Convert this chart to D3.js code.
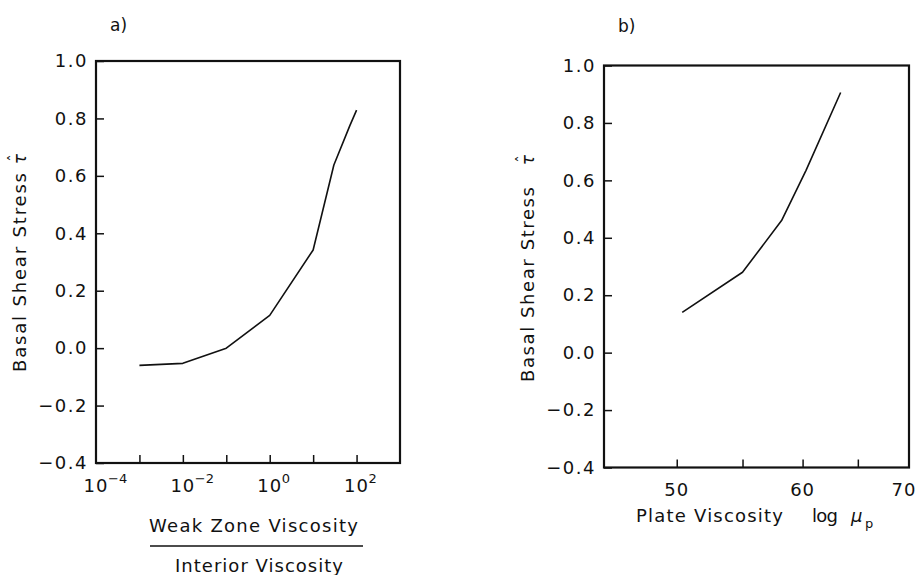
<!DOCTYPE html>
<html>
<head>
<meta charset="utf-8">
<script src="https://cdn.jsdelivr.net/npm/d3@7"></script>
<style>
  html, body { margin: 0; padding: 0; background: #fff; }
  svg { display: block; }
  text { font-family: "DejaVu Sans", "Liberation Sans", sans-serif; fill: #111; }
</style>
</head>
<body>
<svg id="chart" width="918" height="575"></svg>
<script>
// ---- data ----
const aX = [0.001, 0.01, 0.1, 1, 10, 30, 70, 100];
const aY = [-0.060, -0.053, 0.0, 0.114, 0.342, 0.638, 0.775, 0.829];
const bX = [50.4, 55, 58.2, 60.3, 63.4];
const bY = [0.14, 0.28, 0.46, 0.635, 0.906];
const yTicks = [-0.4, -0.2, 0.0, 0.2, 0.4, 0.6, 0.8, 1.0];
const aTickValues = [1e-3, 1e-2, 1e-1, 1e0, 1e1, 1e2];
const aLabelExps = [-4, -2, 0, 2];
const bTickValues = [50, 55, 60, 65];
const bLabels = [50, 60, 70];

const svg = d3.select("#chart");
const fmt = d3.format(".1f");

function yAxisPanel(g, y, x0) {
  const ax = d3.axisLeft(y).tickValues(yTicks).tickFormat(fmt)
    .tickSizeInner(-8).tickSizeOuter(0).tickPadding(8);
  const ga = g.append("g").attr("transform", `translate(${x0},0)`).call(ax);
  ga.select(".domain").remove();
  ga.selectAll(".tick line").attr("stroke", "#111").attr("stroke-width", 1.5);
  ga.selectAll(".tick text").attr("font-size", 18).attr("letter-spacing", 1.5)
    .attr("font-family", "DejaVu Sans").attr("fill", "#111");
}

function frame(g, x0, y0, x1, y1) {
  g.append("rect").attr("x", x0).attr("y", y0).attr("width", x1 - x0).attr("height", y1 - y0)
    .attr("fill", "none").attr("stroke", "#111").attr("stroke-width", 2.2);
}

function yTitle(g, x, yBottom, len, tauY) {
  const t = g.append("g").attr("transform", `translate(${x},${yBottom}) rotate(-90)`);
  t.append("text").attr("x", 0).attr("y", 0).attr("font-size", 18)
    .attr("textLength", len).attr("lengthAdjust", "spacing")
    .text("Basal Shear Stress");
  t.append("text").attr("x", yBottom - tauY).attr("y", 0).attr("font-size", 17)
    .attr("text-anchor", "middle").attr("font-style", "italic")
    .text("\u03C4");
  t.append("text").attr("x", yBottom - tauY + 1).attr("y", -6).attr("font-size", 15)
    .attr("text-anchor", "middle")
    .text("\u02C6");
}

// ---------- Panel a ----------
{
  const L = 96, T = 61, R = 400, B = 463;
  const x = d3.scaleLog().domain([1e-4, 1e3]).range([L, R]);
  const y = d3.scaleLinear().domain([-0.4, 1.0]).range([B, T]);
  const g = svg.append("g");

  yAxisPanel(g, y, L);
  const xa = d3.axisBottom(x).tickValues(aTickValues).tickFormat("")
    .tickSizeInner(-8).tickSizeOuter(0);
  const gx = g.append("g").attr("transform", `translate(0,${B})`).call(xa);
  gx.select(".domain").remove();
  gx.selectAll(".tick line").attr("stroke", "#111").attr("stroke-width", 1.5);

  aLabelExps.forEach(e => {
    const px = x(Math.pow(10, e));
    g.append("text").attr("x", px).attr("y", 492).attr("text-anchor", "middle")
      .attr("font-size", 18).attr("letter-spacing", 1).text("10");
    g.append("text").attr("x", px + 12).attr("y", 483).attr("text-anchor", "start")
      .attr("font-size", 13).text(e < 0 ? "\u2212" + Math.abs(e) : String(e));
  });

  frame(g, L, T, R, B);

  g.append("path").datum(aX.map((d, i) => [d, aY[i]]))
    .attr("fill", "none").attr("stroke", "#111").attr("stroke-width", 1.6)
    .attr("stroke-linejoin", "round")
    .attr("d", d3.line().x(d => x(d[0])).y(d => y(d[1])));

  g.append("text").attr("x", 110).attr("y", 31).attr("font-size", 17).text("a)");

  yTitle(g, 26, 372, 199, 159);

  g.append("text").attr("x", 149).attr("y", 532).attr("font-size", 18)
    .attr("textLength", 209).attr("lengthAdjust", "spacing").text("Weak Zone Viscosity");
  g.append("line").attr("x1", 150).attr("x2", 363).attr("y1", 546).attr("y2", 546)
    .attr("stroke", "#111").attr("stroke-width", 1.5);
  g.append("text").attr("x", 175).attr("y", 572).attr("font-size", 18)
    .attr("textLength", 168).attr("lengthAdjust", "spacing").text("Interior Viscosity");
}

// ---------- Panel b ----------
{
  const L = 604, T = 65.5, R = 909, B = 467.5;
  const x = d3.scaleLog().domain([45, 70]).range([L, R]);
  const y = d3.scaleLinear().domain([-0.4, 1.0]).range([B, T]);
  const g = svg.append("g");

  yAxisPanel(g, y, L);
  const xa = d3.axisBottom(x).tickValues(bTickValues).tickFormat("")
    .tickSizeInner(-8).tickSizeOuter(0);
  const gx = g.append("g").attr("transform", `translate(0,${B})`).call(xa);
  gx.select(".domain").remove();
  gx.selectAll(".tick line").attr("stroke", "#111").attr("stroke-width", 1.5);

  bLabels.forEach(v => {
    const px = Math.min(x(v), 904);
    g.append("text").attr("x", px).attr("y", 496).attr("text-anchor", "middle")
      .attr("font-size", 18).attr("letter-spacing", 1).text(String(v));
  });

  frame(g, L, T, R, B);

  g.append("path").datum(bX.map((d, i) => [d, bY[i]]))
    .attr("fill", "none").attr("stroke", "#111").attr("stroke-width", 1.6)
    .attr("stroke-linejoin", "round")
    .attr("d", d3.line().x(d => x(d[0])).y(d => y(d[1])));

  g.append("text").attr("x", 618).attr("y", 32).attr("font-size", 17).text("b)");

  yTitle(g, 534, 382, 195, 160);

  g.append("text").attr("x", 636).attr("y", 522).attr("font-size", 18)
    .attr("textLength", 147).attr("lengthAdjust", "spacing").text("Plate Viscosity");
  g.append("text").attr("x", 812).attr("y", 522).attr("font-size", 18)
    .attr("textLength", 26).attr("lengthAdjust", "spacing").text("log");
  g.append("text").attr("x", 851).attr("y", 522).attr("font-size", 18)
    .attr("font-style", "italic").text("\u03BC");
  g.append("text").attr("x", 865).attr("y", 528).attr("font-size", 13).text("p");
}
</script>
</body>
</html>
